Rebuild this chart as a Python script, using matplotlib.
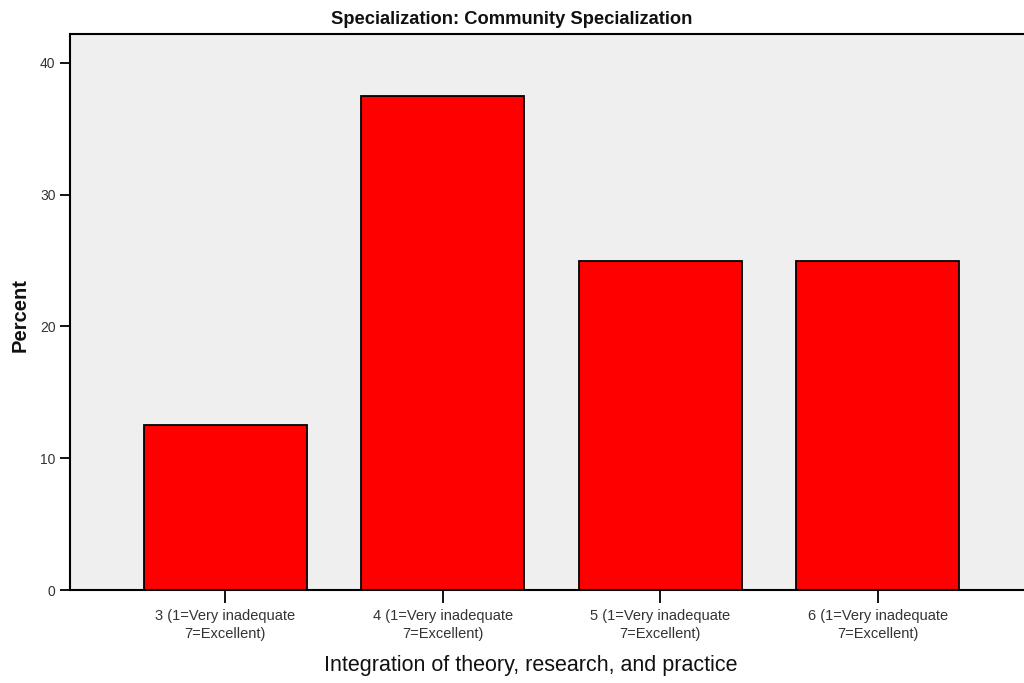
import matplotlib
matplotlib.use("Agg")
import matplotlib.pyplot as plt

categories = ["3 (1=Very inadequate\n7=Excellent)", "4 (1=Very inadequate\n7=Excellent)",
              "5 (1=Very inadequate\n7=Excellent)", "6 (1=Very inadequate\n7=Excellent)"]
percent = [12.5, 37.5, 25.0, 25.0]
yticks = [0, 10, 20, 30, 40]

plt.rcParams['font.family'] = ['Liberation Sans', 'DejaVu Sans']

W, H = 1024, 683
fig = plt.figure(figsize=(W/100, H/100), dpi=100)
left, right, top, bottom = 70, 1033, 34, 590
ax = fig.add_axes([left/W, 1 - bottom/H, (right-left)/W, (bottom-top)/H])
ax.set_facecolor('#efefef')

x = list(range(len(categories)))
ax.bar(x, percent, width=0.75, color='#ff0000', edgecolor='black', linewidth=1.3, zorder=2)
ax.set_xlim(-0.713, 3.713)
ax.set_ylim(0, 42.2)
ax.set_yticks(yticks)
ax.set_xticks(x)
ax.set_xticklabels(categories, fontsize=10.5, color='#333333', linespacing=1.35)
ax.tick_params(axis='y', labelsize=10, length=7, width=1.3, colors='black', labelcolor='#333333')
ax.tick_params(axis='x', length=9, width=1.3, pad=5)
for s in ['left', 'bottom', 'top']:
    ax.spines[s].set_linewidth(1.5)
ax.spines['right'].set_visible(False)

fig.text(512/W, 1 - 19/H, "Specialization: Community Specialization", fontsize=13.2,
         fontweight='bold', ha='center', va='center', color='#111111')
fig.text(531/W, 1 - 665/H, "Integration of theory, research, and practice", fontsize=15.5,
         ha='center', va='center', color='#111111')
fig.text(20/W, 1 - 315/H, "Percent", fontsize=14.5, fontweight='bold', rotation=90,
         ha='center', va='center', color='#111111')

fig.savefig("out.png", dpi=100)
